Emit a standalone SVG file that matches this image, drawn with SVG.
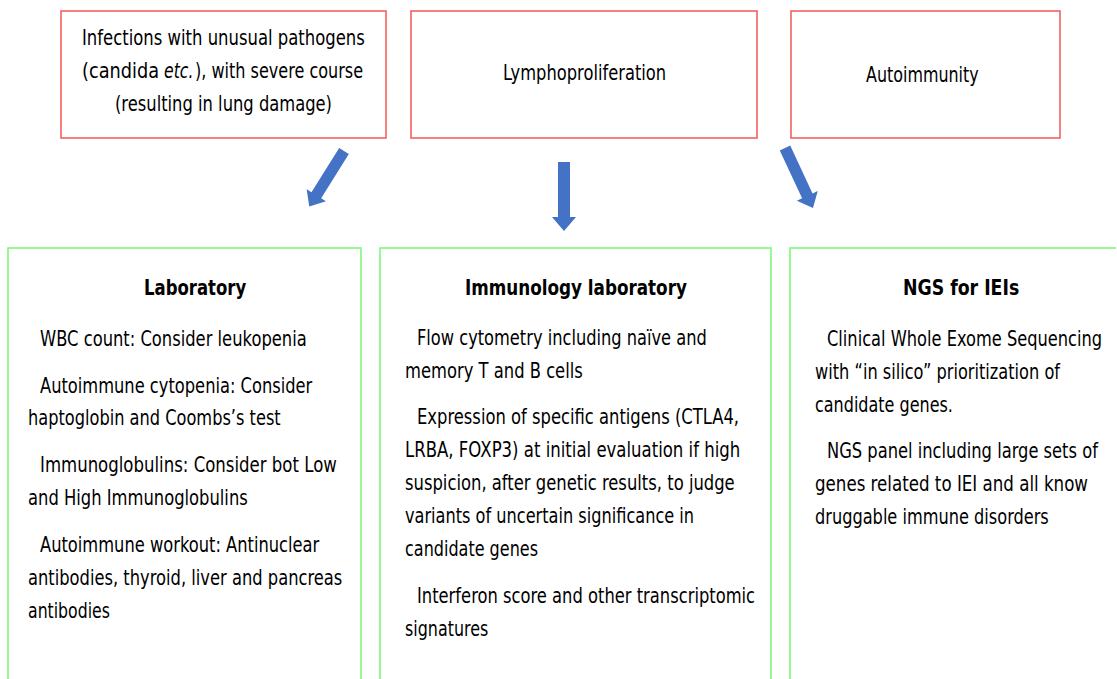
<svg xmlns="http://www.w3.org/2000/svg" width="1117" height="679" viewBox="0 0 1117 679">
<style>
.top{fill:#fff;stroke:#f45555;stroke-width:1.5}
.bot{fill:none;stroke:#74f874;stroke-width:1.5}
text{font-family:"DejaVu Sans","Liberation Sans",sans-serif;font-size:21px;fill:#000}
.b{font-weight:bold}
.i{font-style:italic}
.arr{fill:#4472c4}
</style>
<defs>
<path id="arrow" d="M-6,0 H6 V55 H12 L0,69 L-12,55 H-6 Z"/>
</defs>
<rect width="1117" height="679" fill="#fff"/>
<g id="node-infections">
<rect class="top" x="61" y="11" width="325" height="127"/>
<text transform="translate(82,45) scale(0.7,1)" textLength="404" lengthAdjust="spacingAndGlyphs">Infections with unusual pathogens</text>
<text transform="translate(82,78) scale(0.7,1)" textLength="110" lengthAdjust="spacingAndGlyphs">(candida</text>
<text class="i" transform="translate(164,78) scale(0.7,1)" textLength="42" lengthAdjust="spacingAndGlyphs">etc.</text>
<text transform="translate(195,78) scale(0.7,1)" textLength="240" lengthAdjust="spacingAndGlyphs">), with severe course</text>
<text transform="translate(115,111) scale(0.7,1)" textLength="310" lengthAdjust="spacingAndGlyphs">(resulting in lung damage)</text>
</g>
<g id="node-lympho">
<rect class="top" x="411" y="11" width="346" height="127"/>
<text transform="translate(503,80) scale(0.7,1)" textLength="233" lengthAdjust="spacingAndGlyphs">Lymphoproliferation</text>
</g>
<g id="node-autoimmunity">
<rect class="top" x="791" y="11" width="269" height="127"/>
<text transform="translate(866,82) scale(0.7,1)" textLength="161" lengthAdjust="spacingAndGlyphs">Autoimmunity</text>
</g>
<g id="connectors">
<use href="#arrow" class="arr" transform="translate(344,151) rotate(32) scale(0.95)"/>
<use href="#arrow" class="arr" transform="translate(564,162)"/>
<use href="#arrow" class="arr" transform="translate(785,148) rotate(-25) scale(0.96)"/>
</g>
<g id="node-laboratory">
<path class="bot" d="M8,679 V248 H361 V679"/>
<text class="b" transform="translate(144,295) scale(0.7,1)" textLength="146" lengthAdjust="spacingAndGlyphs">Laboratory</text>
<text transform="translate(40,346) scale(0.7,1)" textLength="381" lengthAdjust="spacingAndGlyphs">WBC count: Consider leukopenia</text>
<text transform="translate(40,393) scale(0.7,1)" textLength="389" lengthAdjust="spacingAndGlyphs">Autoimmune cytopenia: Consider</text>
<text transform="translate(28,425) scale(0.7,1)" textLength="361" lengthAdjust="spacingAndGlyphs">haptoglobin and Coombs’s test</text>
<text transform="translate(40,472) scale(0.7,1)" textLength="424" lengthAdjust="spacingAndGlyphs">Immunoglobulins: Consider bot Low</text>
<text transform="translate(28,505) scale(0.7,1)" textLength="314" lengthAdjust="spacingAndGlyphs">and High Immunoglobulins</text>
<text transform="translate(40,552) scale(0.7,1)" textLength="399" lengthAdjust="spacingAndGlyphs">Autoimmune workout: Antinuclear</text>
<text transform="translate(28,585) scale(0.7,1)" textLength="449" lengthAdjust="spacingAndGlyphs">antibodies, thyroid, liver and pancreas</text>
<text transform="translate(28,618) scale(0.7,1)" textLength="117" lengthAdjust="spacingAndGlyphs">antibodies</text>
</g>
<g id="node-immunology">
<path class="bot" d="M380,679 V248 H771 V679"/>
<text class="b" transform="translate(465,295) scale(0.7,1)" textLength="317" lengthAdjust="spacingAndGlyphs">Immunology laboratory</text>
<text transform="translate(417,345) scale(0.7,1)" textLength="414" lengthAdjust="spacingAndGlyphs">Flow cytometry including naïve and</text>
<text transform="translate(405,378) scale(0.7,1)" textLength="254" lengthAdjust="spacingAndGlyphs">memory T and B cells</text>
<text transform="translate(417,424) scale(0.7,1)" textLength="460" lengthAdjust="spacingAndGlyphs">Expression of specific antigens (CTLA4,</text>
<text transform="translate(405,457) scale(0.7,1)" textLength="479" lengthAdjust="spacingAndGlyphs">LRBA, FOXP3) at initial evaluation if high</text>
<text transform="translate(405,490) scale(0.7,1)" textLength="471" lengthAdjust="spacingAndGlyphs">suspicion, after genetic results, to judge</text>
<text transform="translate(405,523) scale(0.7,1)" textLength="413" lengthAdjust="spacingAndGlyphs">variants of uncertain significance in</text>
<text transform="translate(405,556) scale(0.7,1)" textLength="190" lengthAdjust="spacingAndGlyphs">candidate genes</text>
<text transform="translate(417,603) scale(0.7,1)" textLength="483" lengthAdjust="spacingAndGlyphs">Interferon score and other transcriptomic</text>
<text transform="translate(405,636) scale(0.7,1)" textLength="119" lengthAdjust="spacingAndGlyphs">signatures</text>
</g>
<g id="node-ngs">
<path class="bot" d="M790,679 V248 H1116"/>
<text class="b" transform="translate(903,295) scale(0.7,1)" textLength="166" lengthAdjust="spacingAndGlyphs">NGS for IEIs</text>
<text transform="translate(827,346) scale(0.7,1)" textLength="393" lengthAdjust="spacingAndGlyphs">Clinical Whole Exome Sequencing</text>
<text transform="translate(815,379) scale(0.7,1)" textLength="350" lengthAdjust="spacingAndGlyphs">with “in silico” prioritization of</text>
<text transform="translate(815,412) scale(0.7,1)" textLength="197" lengthAdjust="spacingAndGlyphs">candidate genes.</text>
<text transform="translate(827,458) scale(0.7,1)" textLength="387" lengthAdjust="spacingAndGlyphs">NGS panel including large sets of</text>
<text transform="translate(815,491) scale(0.7,1)" textLength="390" lengthAdjust="spacingAndGlyphs">genes related to IEI and all know</text>
<text transform="translate(815,524) scale(0.7,1)" textLength="334" lengthAdjust="spacingAndGlyphs">druggable immune disorders</text>
</g>
</svg>
